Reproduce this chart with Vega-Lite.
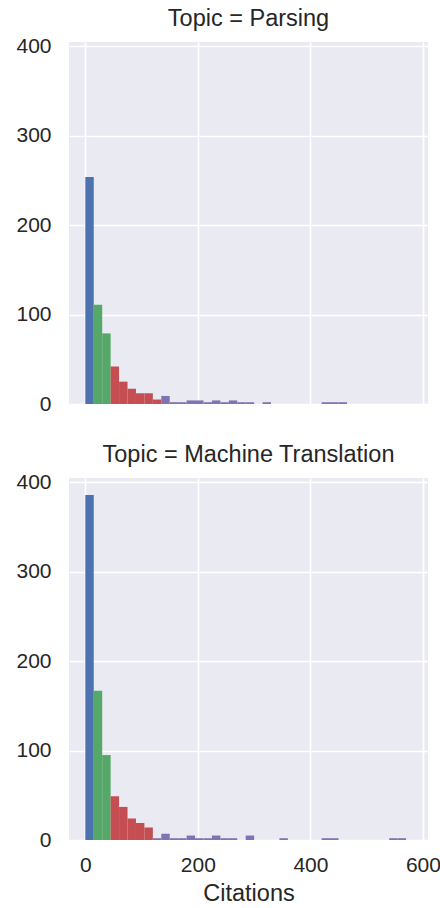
{
  "$schema": "https://vega.github.io/schema/vega-lite/v6.json",
  "padding": {"left": 15, "top": 6, "right": 5, "bottom": 5},
  "background": "white",
  "config": {
    "font": "Liberation Sans",
    "view": {"fill": "#EAEAF2", "stroke": null},
    "axis": {
      "grid": true, "gridColor": "white", "gridWidth": 1.6,
      "domain": false, "ticks": false,
      "labelFont": "Liberation Sans", "labelFontSize": 21, "labelColor": "#262626",
      "titleFont": "Liberation Sans", "titleFontSize": 23.5, "titleColor": "#262626", "titleFontWeight": "normal"
    },
    "header": {
      "labelFont": "Liberation Sans", "labelFontSize": 23.5, "labelColor": "#262626"
    },
    "facet": {"spacing": 38}
  },
  "data": {"values": [
    {"Topic": "Parsing", "start": 0, "end": 15, "count": 254, "group": "g1"},
    {"Topic": "Parsing", "start": 15, "end": 30, "count": 111, "group": "g2"},
    {"Topic": "Parsing", "start": 30, "end": 45, "count": 79, "group": "g2"},
    {"Topic": "Parsing", "start": 45, "end": 60, "count": 42, "group": "g3"},
    {"Topic": "Parsing", "start": 60, "end": 75, "count": 25, "group": "g3"},
    {"Topic": "Parsing", "start": 75, "end": 90, "count": 17, "group": "g3"},
    {"Topic": "Parsing", "start": 90, "end": 105, "count": 12, "group": "g3"},
    {"Topic": "Parsing", "start": 105, "end": 120, "count": 12, "group": "g3"},
    {"Topic": "Parsing", "start": 120, "end": 135, "count": 5, "group": "g3"},
    {"Topic": "Parsing", "start": 135, "end": 150, "count": 9, "group": "g4"},
    {"Topic": "Parsing", "start": 150, "end": 165, "count": 2, "group": "g4"},
    {"Topic": "Parsing", "start": 165, "end": 180, "count": 2, "group": "g4"},
    {"Topic": "Parsing", "start": 180, "end": 195, "count": 4, "group": "g4"},
    {"Topic": "Parsing", "start": 195, "end": 210, "count": 4, "group": "g4"},
    {"Topic": "Parsing", "start": 210, "end": 225, "count": 2, "group": "g4"},
    {"Topic": "Parsing", "start": 225, "end": 240, "count": 4, "group": "g4"},
    {"Topic": "Parsing", "start": 240, "end": 255, "count": 2, "group": "g4"},
    {"Topic": "Parsing", "start": 255, "end": 270, "count": 4, "group": "g4"},
    {"Topic": "Parsing", "start": 270, "end": 285, "count": 2, "group": "g4"},
    {"Topic": "Parsing", "start": 285, "end": 300, "count": 2, "group": "g4"},
    {"Topic": "Parsing", "start": 315, "end": 330, "count": 2, "group": "g4"},
    {"Topic": "Parsing", "start": 420, "end": 435, "count": 2, "group": "g4"},
    {"Topic": "Parsing", "start": 435, "end": 450, "count": 2, "group": "g4"},
    {"Topic": "Parsing", "start": 450, "end": 465, "count": 2, "group": "g4"},
    {"Topic": "Machine Translation", "start": 0, "end": 15, "count": 386, "group": "g1"},
    {"Topic": "Machine Translation", "start": 15, "end": 30, "count": 167, "group": "g2"},
    {"Topic": "Machine Translation", "start": 30, "end": 45, "count": 95, "group": "g2"},
    {"Topic": "Machine Translation", "start": 45, "end": 60, "count": 49, "group": "g3"},
    {"Topic": "Machine Translation", "start": 60, "end": 75, "count": 37, "group": "g3"},
    {"Topic": "Machine Translation", "start": 75, "end": 90, "count": 24, "group": "g3"},
    {"Topic": "Machine Translation", "start": 90, "end": 105, "count": 19, "group": "g3"},
    {"Topic": "Machine Translation", "start": 105, "end": 120, "count": 14, "group": "g3"},
    {"Topic": "Machine Translation", "start": 120, "end": 135, "count": 2, "group": "g4"},
    {"Topic": "Machine Translation", "start": 135, "end": 150, "count": 7, "group": "g4"},
    {"Topic": "Machine Translation", "start": 150, "end": 165, "count": 2, "group": "g4"},
    {"Topic": "Machine Translation", "start": 165, "end": 180, "count": 2, "group": "g4"},
    {"Topic": "Machine Translation", "start": 180, "end": 195, "count": 5, "group": "g4"},
    {"Topic": "Machine Translation", "start": 195, "end": 210, "count": 2, "group": "g4"},
    {"Topic": "Machine Translation", "start": 210, "end": 225, "count": 2, "group": "g4"},
    {"Topic": "Machine Translation", "start": 225, "end": 240, "count": 5, "group": "g4"},
    {"Topic": "Machine Translation", "start": 240, "end": 255, "count": 2, "group": "g4"},
    {"Topic": "Machine Translation", "start": 255, "end": 270, "count": 2, "group": "g4"},
    {"Topic": "Machine Translation", "start": 285, "end": 300, "count": 5, "group": "g4"},
    {"Topic": "Machine Translation", "start": 345, "end": 360, "count": 2, "group": "g4"},
    {"Topic": "Machine Translation", "start": 420, "end": 435, "count": 2, "group": "g4"},
    {"Topic": "Machine Translation", "start": 435, "end": 450, "count": 2, "group": "g4"},
    {"Topic": "Machine Translation", "start": 540, "end": 555, "count": 2, "group": "g4"},
    {"Topic": "Machine Translation", "start": 555, "end": 570, "count": 2, "group": "g4"}
  ]},
  "facet": {
    "field": "Topic", "type": "nominal",
    "sort": ["Parsing", "Machine Translation"],
    "header": {"title": null, "labelExpr": "'Topic = ' + datum.value", "labelPadding": 12}
  },
  "columns": 1,
  "spec": {
    "width": 359,
    "height": 362,
    "mark": {"type": "bar", "stroke": null},
    "encoding": {
      "x": {"field": "start", "type": "quantitative",
            "scale": {"domain": [-29, 609], "nice": false, "zero": false},
            "axis": {"values": [0, 200, 400, 600], "title": "Citations", "labelPadding": 14, "titlePadding": 6}},
      "x2": {"field": "end"},
      "y": {"field": "count", "type": "quantitative",
            "scale": {"domain": [0, 405], "nice": false},
            "axis": {"values": [0, 100, 200, 300, 400], "title": null, "labelPadding": 18}},
      "y2": {"datum": 0},
      "color": {"field": "group", "type": "nominal",
                "scale": {"domain": ["g1", "g2", "g3", "g4"], "range": ["#4C72B0", "#55A868", "#C44E52", "#8172B2"]},
                "legend": null}
    }
  }
}
